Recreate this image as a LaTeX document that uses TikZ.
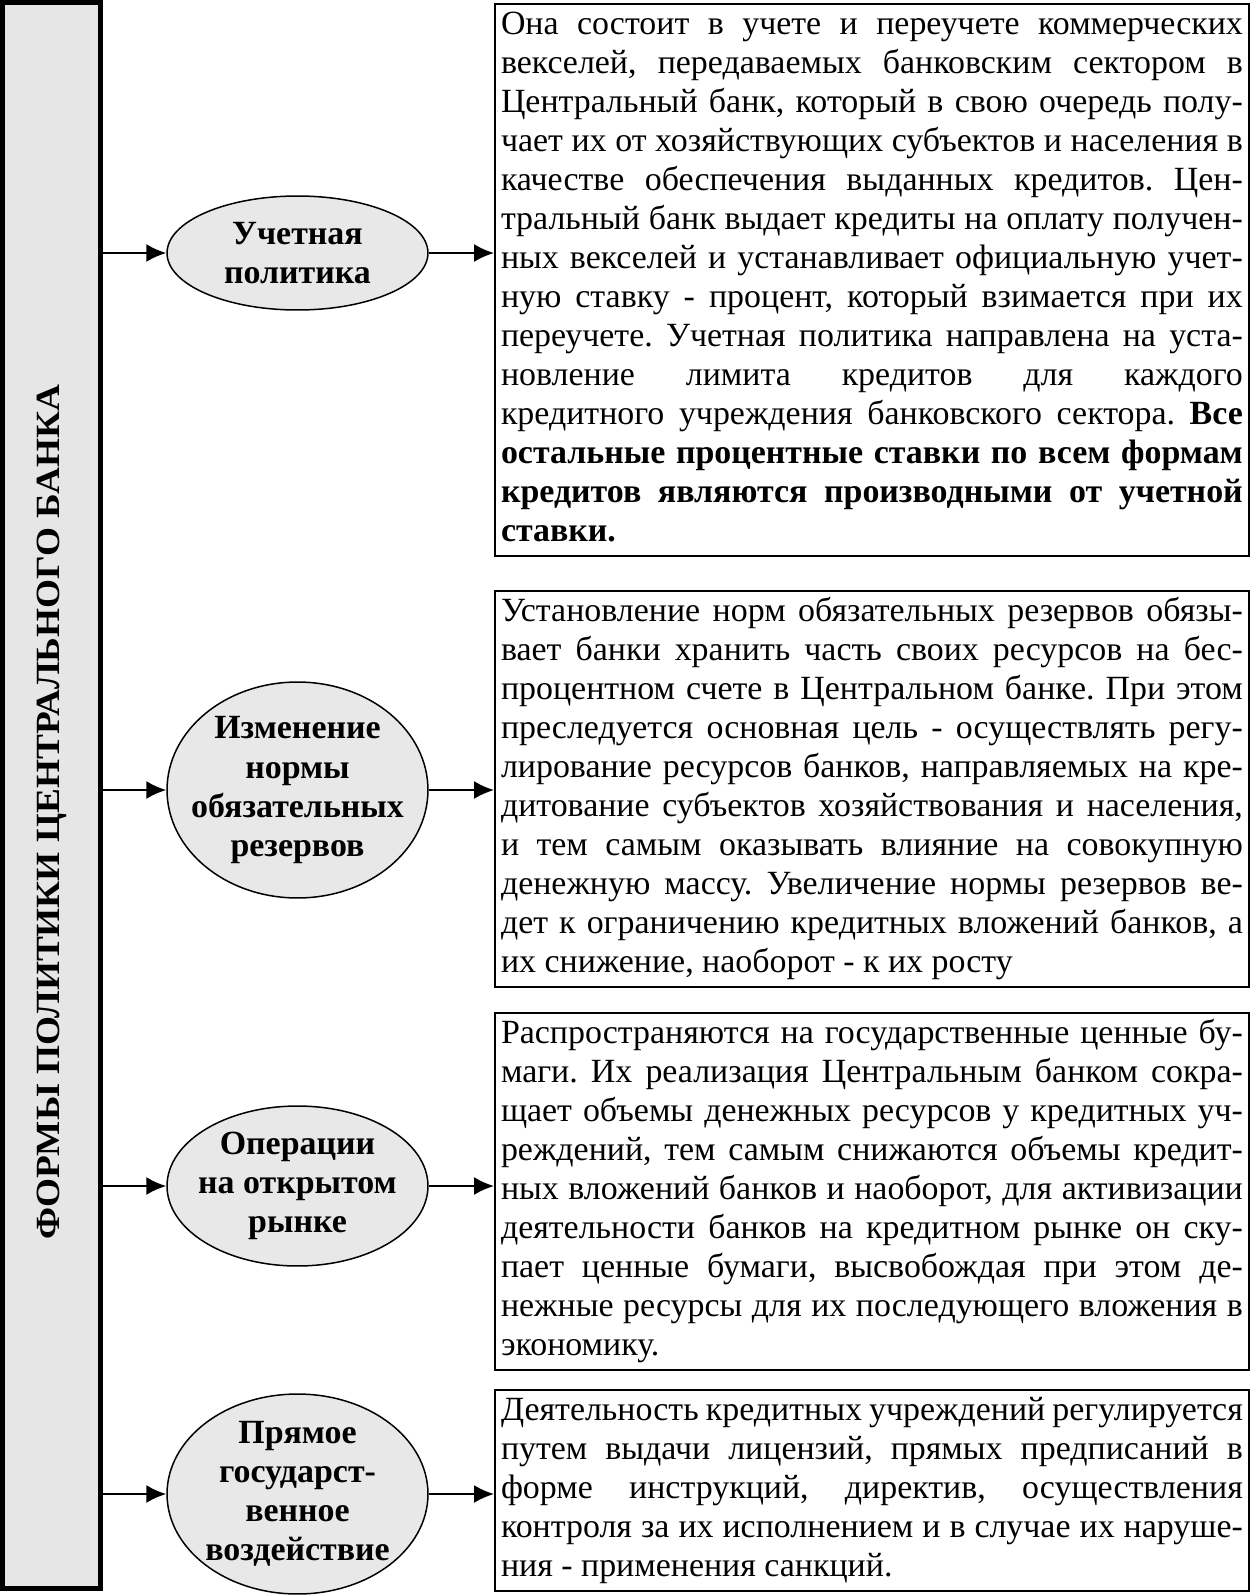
\documentclass[tikz,border=0pt]{standalone}
\usepackage{fontspec}
\setmainfont{Liberation Serif}
\newfontfamily\widebold[FakeStretch=1.1]{Liberation Serif}
\usepackage{tikz}
\usetikzlibrary{arrows.meta,shapes.geometric}
\definecolor{barfill}{HTML}{E6E6E6}
\definecolor{ovalfill}{HTML}{E8E8E8}
\tolerance=10000
\hbadness=10000
\hyphenpenalty=10000
\frenchspacing

\begin{document}
\begin{tikzpicture}[
  x=0.02cm, y=-0.02cm,
  bar/.style={draw, line width=0.1cm, fill=barfill, minimum width=1.96cm, minimum height=31.72cm},
  bartitle/.style={rotate=90, font=\widebold\bfseries\fontsize{19.3}{22.2}\selectfont},
  oval/.style={ellipse, draw, line width=0.03cm, fill=ovalfill, minimum width=5.22cm, inner sep=-0.5cm, align=center, font=\bfseries\fontsize{19.3}{22.2}\selectfont},
  desc/.style={draw, line width=0.04cm, anchor=north west, text width=14.84cm, inner xsep=0.12cm, inner ysep=0.06cm, align=justify, font=\fontsize{19.3}{22.2}\selectfont},
  arr/.style={-{Latex[length=0.4cm,width=0.36cm]}, line width=0.04cm}
]
\useasboundingbox (0,0) rectangle (1251,1596);

% left bar
\node[bar] (bar) at (51.5,795.5) {};
\node[bartitle] (title) at (52,812) {ФОРМЫ ПОЛИТИКИ ЦЕНТРАЛЬНОГО БАНКА};

% forms
\node[oval, minimum height=2.28cm] (e1) at (297.5,253) {Учетная\\политика};
\node[oval, minimum height=4.32cm] (e2) at (297.5,790) {Изменение\\нормы\\обязательных\\резервов};
\node[oval, minimum height=3.2cm] (e3) at (297.5,1186) {Операции\\на открытом\\рынке};
\node[oval, minimum height=4cm] (e4) at (297.5,1494) {Прямое\\государст-\\венное\\воздействие};

% descriptions
\node[desc] (d1) at (494,3) {\strut Она состоит в учете и переучете коммерческих\linebreak
векселей, передаваемых банковским сектором в\linebreak
Центральный банк, который в свою очередь полу-\linebreak
чает их от хозяйствующих субъектов и населения в\linebreak
качестве обеспечения выданных кредитов. Цен-\linebreak
тральный банк выдает кредиты на оплату получен-\linebreak
ных векселей и устанавливает официальную учет-\linebreak
ную ставку - процент, который взимается при их\linebreak
переучете. Учетная политика направлена на уста-\linebreak
новление лимита кредитов для каждого\linebreak
кредитного учреждения банковского сектора. \textbf{Все\linebreak
остальные процентные ставки по всем формам\linebreak
кредитов являются производными от учетной\linebreak
ставки.}\strut};
\node[desc] (d2) at (494,590) {\strut Установление норм обязательных резервов обязы-\linebreak
вает банки хранить часть своих ресурсов на бес-\linebreak
процентном счете в Центральном банке. При этом\linebreak
преследуется основная цель - осуществлять регу-\linebreak
лирование ресурсов банков, направляемых на кре-\linebreak
дитование субъектов хозяйствования и населения,\linebreak
и тем самым оказывать влияние на совокупную\linebreak
денежную массу. Увеличение нормы резервов ве-\linebreak
дет к ограничению кредитных вложений банков, а\linebreak
их снижение, наоборот - к их росту\strut};
\node[desc] (d3) at (494,1012) {\strut Распространяются на государственные ценные бу-\linebreak
маги. Их реализация Центральным банком сокра-\linebreak
щает объемы денежных ресурсов у кредитных уч-\linebreak
реждений, тем самым снижаются объемы кредит-\linebreak
ных вложений банков и наоборот, для активизации\linebreak
деятельности банков на кредитном рынке он ску-\linebreak
пает ценные бумаги, высвобождая при этом де-\linebreak
нежные ресурсы для их последующего вложения в\linebreak
экономику.\strut};
\node[desc] (d4) at (494,1389) {\strut Деятельность кредитных учреждений регулируется\linebreak
путем выдачи лицензий, прямых предписаний в\linebreak
форме инструкций, директив, осуществления\linebreak
контроля за их исполнением и в случае их наруше-\linebreak
ния - применения санкций.\strut};

% arrows
\foreach \i in {1,...,4} {
  \draw[arr] (bar.east |- e\i.west) -- (e\i.west);
  \draw[arr] (e\i.east) -- (e\i.east -| d\i.west);
}
\end{tikzpicture}
\end{document}
